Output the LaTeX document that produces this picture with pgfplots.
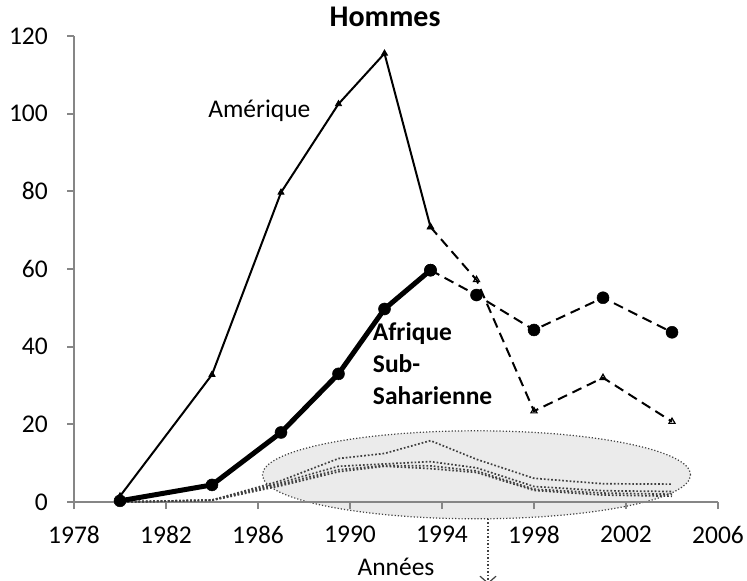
\documentclass[border=0pt]{standalone}
\usepackage{fontspec}
\setmainfont{Carlito}
\usepackage{pgfplots}
\pgfplotsset{compat=1.18}
\usetikzlibrary{arrows.meta}
\definecolor{axisgrey}{HTML}{868686}
\definecolor{ellfill}{HTML}{EBEBEB}
\definecolor{dotgrey}{HTML}{404040}
\newcommand\lbl{\fontsize{25.5bp}{31bp}\selectfont}

\begin{document}
\begin{tikzpicture}
\path[use as bounding box] (-74bp,-79bp) rectangle (673bp,502bp);
% ellipse round the small series (axis box starts at the origin, 23bp per year, 466/120 bp per unit)
\draw[dotgrey, line width=1.2bp, dotted, fill=ellfill] (402.5bp,27.2bp) ellipse [x radius=214bp, y radius=44bp];
\draw[dotgrey, line width=1.5bp, dotted, -{Straight Barb[length=7bp, width=16bp, line width=1.2bp]}] (414bp,-16.8bp) -- (414bp,-82bp);
\begin{axis}[
    scale only axis, width=644bp, height=466bp,
    xmin=1978, xmax=2006, ymin=0, ymax=120,
    xtick={1978,1982,...,2006}, ytick={0,20,...,120},
    axis lines=left, axis line style={-, axisgrey, line width=2bp},
    tick align=outside, major tick length=7bp,
    every tick/.style={axisgrey, line width=2bp},
    /pgf/number format/1000 sep={},
    /pgf/number format/assume math mode=true,
    tick label style={font=\lbl, inner sep=0pt},
    xticklabel style={yshift=-17bp},
    yticklabel style={xshift=-19bp},
    xlabel={Années},
    xlabel style={font=\lbl, inner sep=0pt, at={(axis description cs:0.5,0)}, anchor=base, yshift=-73bp},
    title={\textbf{Hommes}},
    title style={font=\fontsize{30bp}{36bp}\selectfont, inner sep=0pt, at={(axis description cs:0.483,1)}, anchor=base, yshift=4bp},
    clip=false,
]
% small series in the ellipse
\addplot[dotgrey, line width=1.7bp, dotted] coordinates {(1980,0)(1984,0.5)(1987,5.5)(1989.5,11.2)(1991.5,12.5)(1993.5,15.8)(1995.5,11)(1998,6.1)(2001,4.7)(2004,4.6)};
\addplot[dotgrey, line width=1.7bp, dotted] coordinates {(1980,0)(1984,0.5)(1987,5)(1989.5,9.2)(1991.5,9.8)(1993.5,10.4)(1995.5,8.8)(1998,4.0)(2001,2.9)(2004,2.7)};
\addplot[dotgrey, line width=1.7bp, dotted] coordinates {(1980,0)(1984,0.5)(1987,4.6)(1989.5,8.3)(1991.5,9.4)(1993.5,9.3)(1995.5,8.0)(1998,3.3)(2001,2.3)(2004,2.0)};
\addplot[dotgrey, line width=1.7bp, dotted] coordinates {(1980,0)(1984,0.4)(1987,4.2)(1989.5,7.8)(1991.5,9.2)(1993.5,8.6)(1995.5,7.6)(1998,3.0)(2001,1.8)(2004,1.5)};

% Afrique Sub-Saharienne
\addplot[black, line width=5bp, mark=*, mark size=6bp, mark options={line width=0.5bp}] coordinates {(1980,0.3)(1984,4.4)(1987,17.9)(1989.5,33.0)(1991.5,49.7)(1993.5,59.7)};
\addplot[black, line width=2bp, dash pattern=on 10bp off 6bp, mark=*, mark size=6bp, mark options={solid, line width=0.5bp}] coordinates {(1993.5,59.7)(1995.5,53.3)(1998,44.3)(2001,52.6)(2004,43.7)};

% Amerique
\addplot[black, line width=2bp, mark=triangle*, mark size=3.5bp, mark options={line width=0.8bp}] coordinates {(1980,1.5)(1984,32.8)(1987,79.7)(1989.5,102.5)(1991.5,115.5)(1993.5,70.8)};
\addplot[black, line width=2bp, dash pattern=on 10bp off 6bp, mark=triangle, mark size=3.5bp, mark options={solid, line width=1.2bp, fill=white}] coordinates {(1993.5,70.8)(1995.5,57.2)(1998,23.4)(2001,32)(2004,20.7)};

\node[font=\lbl, anchor=base west, inner sep=0pt] at (axis cs:1983.83,99.07) {Amérique};
\node[font=\lbl\bfseries, anchor=base west, inner sep=0pt] at (axis cs:1990.99,41.46) {Afrique};
\node[font=\lbl\bfseries, anchor=base west, inner sep=0pt] at (axis cs:1990.99,33.22) {Sub-};
\node[font=\lbl\bfseries, anchor=base west, inner sep=0pt] at (axis cs:1990.99,24.98) {Saharienne};
\end{axis}
\end{tikzpicture}
\end{document}
